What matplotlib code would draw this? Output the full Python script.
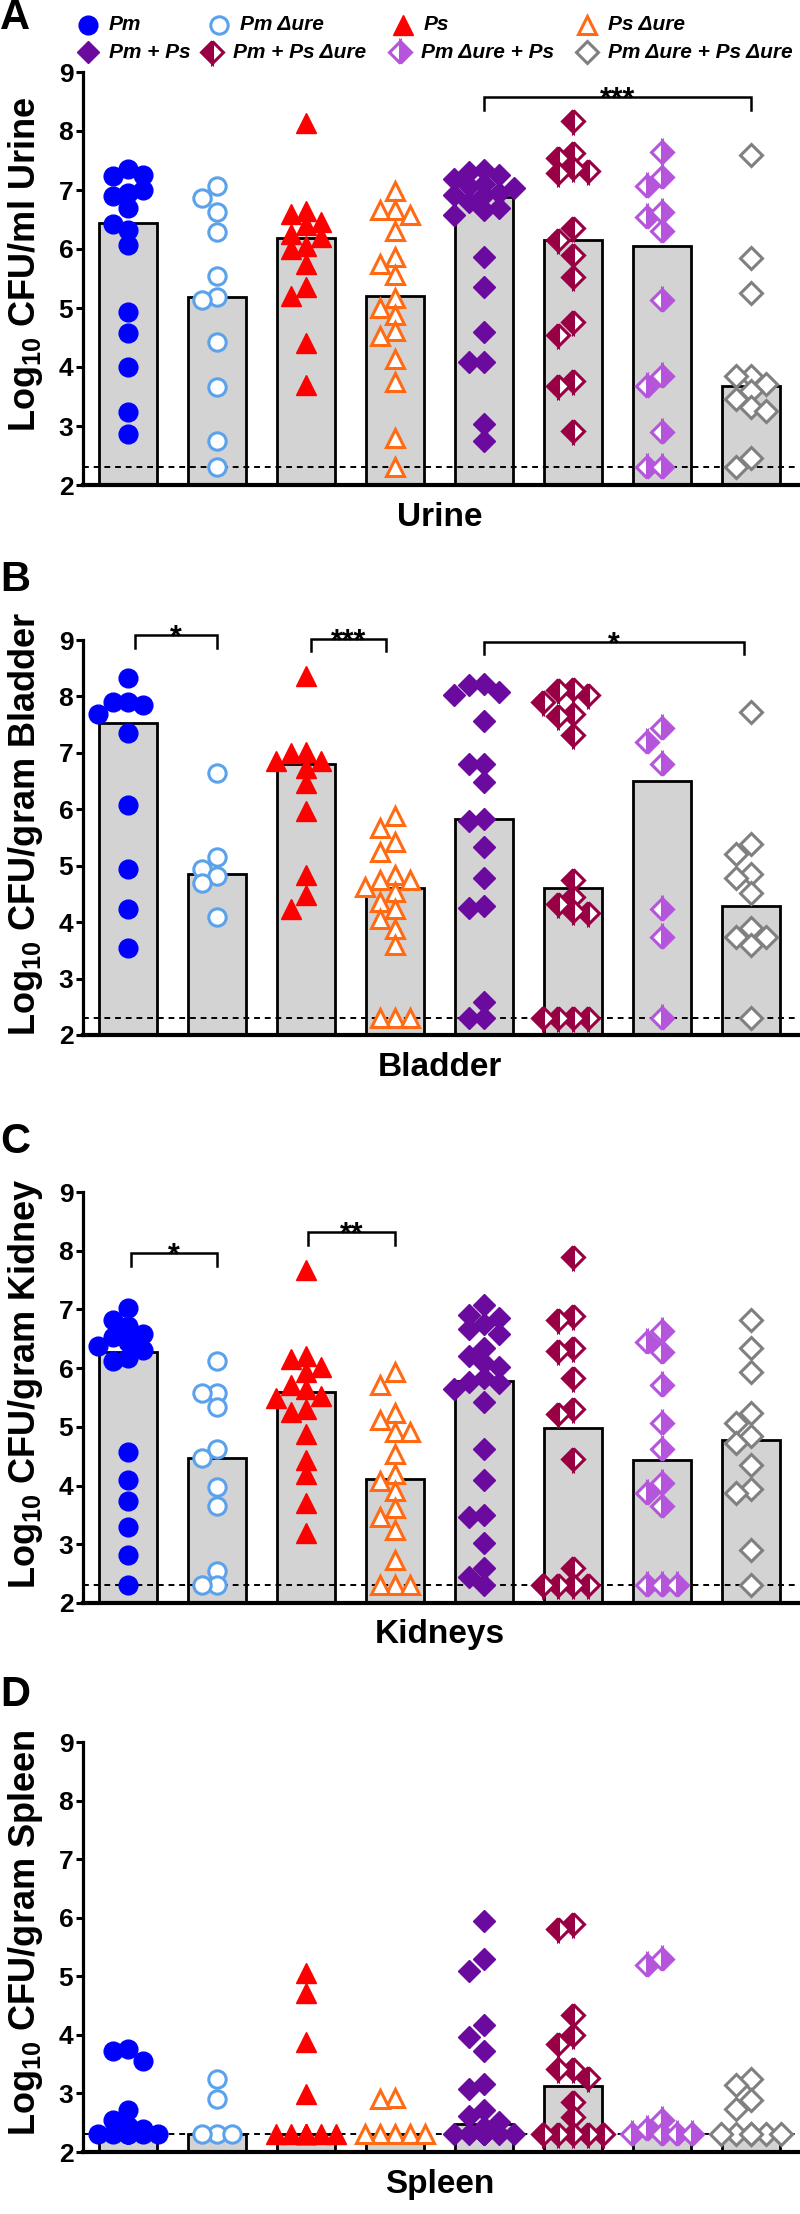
import numpy as np
import matplotlib
matplotlib.use("Agg")
import matplotlib.pyplot as plt

plt.rcParams['font.family'] = ['Liberation Sans', 'DejaVu Sans']
plt.rcParams['font.weight'] = 'bold'
plt.rcParams['mathtext.fontset'] = 'custom'
plt.rcParams['mathtext.rm'] = 'Liberation Sans:bold'
plt.rcParams['mathtext.it'] = 'Liberation Sans:bold:italic'
plt.rcParams['mathtext.bf'] = 'Liberation Sans:bold'

# ---- data (log10 CFU) ----
groups = ['Pm', 'Pm Δure', 'Ps', 'Ps Δure',
          'Pm + Ps', 'Pm + Ps Δure', 'Pm Δure + Ps', 'Pm Δure + Ps Δure']
lod = 2.3

urine_bar = [6.44, 5.19, 6.18, 5.20, 6.88, 6.16, 6.05, 3.68]
urine = [
    [7.36, 7.23, 7.25, 6.95, 7.0, 6.9, 6.69, 6.33, 6.42, 6.06, 4.93, 4.57, 4.0, 3.23, 2.87],
    [7.07, 6.86, 6.62, 6.28, 5.54, 5.19, 5.14, 4.42, 3.66, 2.74, 2.3],
    [8.14, 6.65, 6.6, 6.45, 6.4, 6.25, 6.2, 6.05, 6.0, 5.74, 5.35, 5.2, 4.4, 3.7],
    [6.98, 6.66, 6.66, 6.57, 6.30, 5.86, 5.74, 5.56, 5.17, 5.0, 4.88, 4.61, 4.52, 4.14, 3.75, 2.8, 2.3],
    [7.34, 7.31, 7.25, 7.19, 7.1, 7.07, 7.04, 6.95, 6.92, 6.92, 6.8, 6.69, 6.66, 6.57,
     5.86, 5.36, 4.59, 4.09, 4.09, 3.04, 2.74],
    [8.17, 7.62, 7.55, 7.37, 7.32, 7.28, 6.36, 6.15, 5.89, 5.53, 4.77, 4.55, 3.76, 3.68, 2.91],
    [7.65, 7.22, 7.07, 6.62, 6.54, 6.31, 5.13, 3.84, 3.68, 2.89, 2.3, 2.3],
    [7.59, 5.84, 5.25, 3.84, 3.84, 3.72, 3.6, 3.45, 3.33, 3.25, 2.46, 2.3],
]

bladder_bar = [7.53, 4.86, 6.81, 4.61, 5.83, 4.61, 6.51, 4.29]
bladder = [
    [8.33, 7.91, 7.91, 7.84, 7.69, 7.35, 6.08, 4.94, 4.23, 3.55],
    [6.65, 5.15, 4.94, 4.81, 4.69, 4.09],
    [8.36, 7.01, 7.0, 6.86, 6.86, 6.74, 6.46, 5.97, 4.84, 4.48, 4.24],
    [5.88, 5.67, 5.42, 5.24, 4.84, 4.75, 4.75, 4.63, 4.54, 4.35, 4.23, 4.05, 3.87, 3.59,
     2.3, 2.3, 2.3],
    [8.22, 8.21, 8.08, 8.02, 7.56, 6.81, 6.81, 6.49, 5.83, 5.79, 5.34, 4.79, 4.29, 4.25,
     2.58, 2.3, 2.3],
    [8.14, 8.11, 8.02, 7.9, 7.69, 7.66, 7.32, 4.75, 4.45, 4.32, 4.2, 4.17, 2.3, 2.3, 2.3, 2.3],
    [7.44, 7.2, 6.81, 4.23, 3.73, 2.3],
    [7.73, 5.39, 5.21, 4.86, 4.79, 4.51, 3.9, 3.74, 3.74, 3.59, 2.3],
]

kidney_bar = [6.28, 4.47, 5.60, 4.11, 5.78, 4.98, 4.43, 4.78]
kidney = [
    [7.02, 6.82, 6.72, 6.59, 6.53, 6.44, 6.37, 6.31, 6.18, 6.12, 4.57, 4.09, 3.74, 3.30, 2.81, 2.3],
    [6.12, 5.58, 5.58, 5.33, 4.63, 4.47, 3.97, 3.65, 2.55, 2.3, 2.3],
    [7.67, 6.21, 6.15, 6.02, 5.93, 5.71, 5.64, 5.52, 5.49, 5.3, 5.26, 4.88, 4.44, 4.19, 3.71, 3.2],
    [5.93, 5.71, 5.23, 5.11, 4.92, 4.92, 4.54, 4.19, 4.07, 3.9, 3.62, 3.46, 3.24, 2.73,
     2.3, 2.3, 2.3],
    [7.07, 6.91, 6.85, 6.75, 6.66, 6.59, 6.34, 6.21, 6.09, 6.02, 5.83, 5.77, 5.74, 5.64,
     5.42, 4.63, 4.09, 3.5, 3.46, 3.02, 2.6, 2.45, 2.3],
    [7.89, 6.88, 6.82, 6.35, 6.29, 5.83, 5.3, 5.22, 4.45, 2.6, 2.3, 2.3, 2.3, 2.3],
    [6.63, 6.44, 6.28, 5.71, 5.07, 4.63, 4.05, 3.87, 3.65, 2.3, 2.3, 2.3],
    [6.82, 6.35, 5.93, 5.23, 5.07, 4.85, 4.73, 4.35, 3.95, 3.88, 2.91, 2.3],
]

spleen_bar = [2.3, 2.3, 2.3, 2.3, 2.47, 3.12, 2.3, 2.3]
spleen = [
    [3.76, 3.72, 3.55, 2.72, 2.55, 2.45, 2.4, 2.3, 2.3, 2.3, 2.3, 2.3, 2.3, 2.3, 2.3],
    [3.24, 2.9, 2.3, 2.3, 2.3],
    [5.06, 4.72, 3.87, 2.99, 2.3, 2.3, 2.3, 2.3, 2.3, 2.3, 2.3, 2.3],
    [2.93, 2.9, 2.3, 2.3, 2.3, 2.3, 2.3],
    [5.94, 5.29, 5.09, 4.16, 3.96, 3.72, 3.16, 3.07, 2.72, 2.61, 2.52, 2.43,
     2.3, 2.3, 2.3, 2.3, 2.3, 2.3, 2.3, 2.3, 2.3, 2.3],
    [5.89, 5.81, 4.34, 4.0, 3.84, 3.41, 3.41, 3.27, 2.86, 2.59, 2.3, 2.3, 2.3, 2.3, 2.3],
    [5.29, 5.19, 2.55, 2.4, 2.3, 2.3, 2.3, 2.3],
    [3.24, 3.15, 2.88, 2.74, 2.3, 2.3, 2.3, 2.3, 2.3, 2.3],
]

# significance brackets: (from, to, height, label)
urine_sig = [(4.0, 7.0, 8.58, '***')]
bladder_sig = [(0.08, 1.0, 9.08, '*'), (2.06, 2.9, 9.02, '***'), (4.0, 6.92, 8.97, '*')]
kidney_sig = [(0.03, 1.0, 7.96, '*'), (2.02, 3.0, 8.32, '**')]
spleen_sig = []

# ---- styles ----
colors = ['#0000FF', '#5AA2EC', '#FF0000', '#FF6A13',
          '#6A0A9E', '#990044', '#B455DC', '#808080']
marker_kw = [
    dict(marker='o', ms=13.5, mfc=colors[0], mec=colors[0], mew=1),
    dict(marker='o', ms=12.5, mfc='white', mec=colors[1], mew=2.2),
    dict(marker='^', ms=14, mfc=colors[2], mec=colors[2], mew=1),
    dict(marker='^', ms=13, mfc='white', mec=colors[3], mew=2.2),
    dict(marker='D', ms=11.5, mfc=colors[4], mec=colors[4], mew=1),
    dict(marker='D', ms=11, mfc=colors[5], mec=colors[5], mew=2.2,
         fillstyle='left', markerfacecoloralt='white'),
    dict(marker='D', ms=11, mfc=colors[6], mec=colors[6], mew=2.2,
         fillstyle='right', markerfacecoloralt='white'),
    dict(marker='D', ms=11, mfc='white', mec=colors[7], mew=2.2),
]

W, H = 800, 2214
fig = plt.figure(figsize=(W / 100, H / 100), dpi=100)

# letter, y label, x label, points, bars, brackets, axis top px, axis bottom px, letter y px
panels = [
    ('A', 'Log$_{10}$ CFU/ml Urine', 'Urine', urine, urine_bar, urine_sig, 72, 485, 18),
    ('B', 'Log$_{10}$ CFU/gram Bladder', 'Bladder', bladder, bladder_bar, bladder_sig, 640, 1035, 580),
    ('C', 'Log$_{10}$ CFU/gram Kidney', 'Kidneys', kidney, kidney_bar, kidney_sig, 1192, 1603, 1142),
    ('D', 'Log$_{10}$ CFU/gram Spleen', 'Spleen', spleen, spleen_bar, spleen_sig, 1742, 2152, 1695),
]

x_left, x_right = 83, 798
x0, dx = 128, 89.0
xlim = ((x_left - x0) / dx, (x_right - x0) / dx)


def swarm(vals, px_y, d=14.0, step=15.0):
    placed, offs = [], []
    for v in vals:
        best, best_score = 0.0, -1
        for k in [0, -1, 1, -2, 2]:
            ox = k * step
            dmin = min([np.hypot(ox - px, (v - pv) * px_y) for px, pv in placed] + [1e9])
            if dmin >= d:
                best = ox
                break
            if dmin > best_score + 0.5:
                best, best_score = ox, dmin
        placed.append((best, v))
        offs.append(best / dx)
    return np.array(offs)


for letter, ylab, xlab, pts, bars, sigs, top, bot, let_y in panels:
    ax = fig.add_axes([x_left / W, 1 - bot / H, (x_right - x_left) / W, (bot - top) / H])
    ax.set_xlim(*xlim)
    ax.set_ylim(2, 9)
    px_y = (bot - top) / 7.0
    xs = np.arange(len(groups))
    ax.bar(xs, np.array(bars) - 2, bottom=2, width=0.66, color='#D3D3D3',
           edgecolor='black', linewidth=2.0, zorder=1)
    ax.axhline(lod, color='black', lw=1.4, dashes=(3, 2.5), zorder=2)
    for i, vals in enumerate(pts):
        offs = swarm(vals, px_y)
        ax.plot(i + offs, vals, ls='none', zorder=3, clip_on=False, **marker_kw[i])
    for a, b, yb, lab in sigs:
        ax.plot([a, a, b, b], [yb - 0.22, yb, yb, yb - 0.22], color='black', lw=1.8,
                clip_on=False, zorder=4, solid_joinstyle='miter')
        ax.annotate(lab, xy=((a + b) / 2, yb), xytext=(0, -8), textcoords='offset points',
                    ha='center', va='baseline', fontsize=22, fontweight='bold',
                    annotation_clip=False)
    for s in ['top', 'right']:
        ax.spines[s].set_visible(False)
    ax.spines['left'].set_linewidth(2.3)
    ax.spines['bottom'].set_linewidth(3.0)
    ax.set_xticks([])
    ax.set_yticks(range(2, 10))
    ax.tick_params(axis='y', length=5, width=2.2, labelsize=19, pad=2)
    for t in ax.get_yticklabels():
        t.set_fontweight('bold')
    fig.text(26 / W, 1 - ((top + bot) / 2 - 14) / H, ylab, rotation=90, ha='center',
             va='center', fontsize=26, fontweight='bold')
    fig.text(440 / W, 1 - (bot + 32) / H, xlab, ha='center', va='center',
             fontsize=24, fontweight='bold')
    fig.text(0 / W, 1 - let_y / H, letter, ha='left', va='center',
             fontsize=30, fontweight='bold')

# legend drawn in pixel coordinates
lax = fig.add_axes([0, 1 - 66 / H, 1, 66 / H])
lax.set_xlim(0, W)
lax.set_ylim(66, 0)
lax.axis('off')
leg_marker_x = [88, 219, 403, 587, 88, 212, 400, 587]
leg_row_y = [25, 25, 25, 25, 52, 52, 52, 52]
for gi in range(len(groups)):
    lax.plot([leg_marker_x[gi]], [leg_row_y[gi]], ls='none', clip_on=False, **marker_kw[gi])
    lax.text(leg_marker_x[gi] + 21, leg_row_y[gi], groups[gi], ha='left', va='center',
             fontsize=15, fontweight='bold', fontstyle='italic')

fig.savefig('out.png', dpi=100)
